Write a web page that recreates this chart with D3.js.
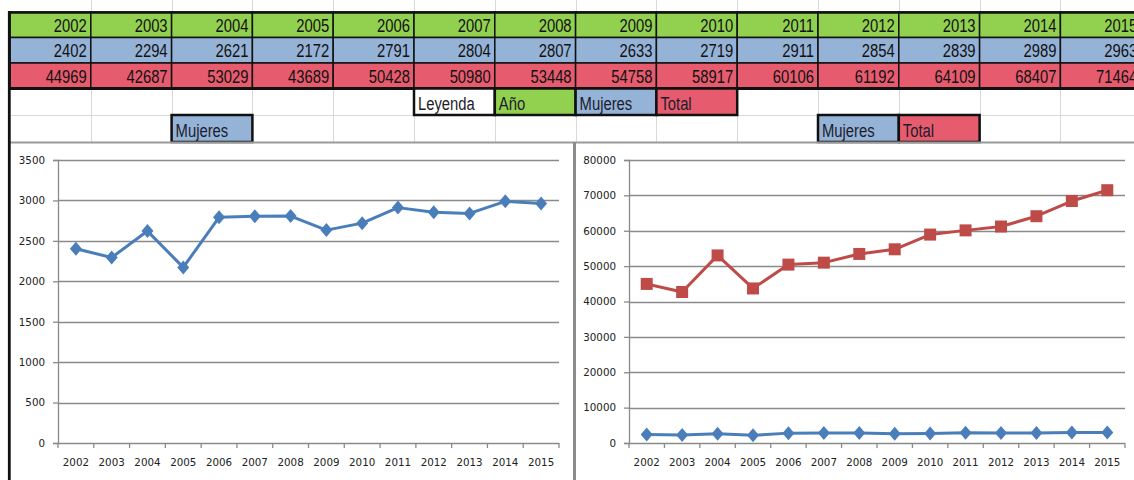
<!DOCTYPE html>
<html>
<head>
<meta charset="utf-8">
<script src="https://cdn.jsdelivr.net/npm/d3@7"></script>
<style>
  html, body { margin: 0; padding: 0; background: #fff; }
  svg { display: block; }
</style>
</head>
<body>
<div id="chart"></div>
<script>
const years = [2002, 2003, 2004, 2005, 2006, 2007, 2008, 2009, 2010, 2011, 2012, 2013, 2014, 2015];
const mujeres = [2402, 2294, 2621, 2172, 2791, 2804, 2807, 2633, 2719, 2911, 2854, 2839, 2989, 2963];
const total = [44969, 42687, 53029, 43689, 50428, 50980, 53448, 54758, 58917, 60106, 61192, 64109, 68407, 71464];
const leftTicks = [0, 500, 1000, 1500, 2000, 2500, 3000, 3500];
const rightTicks = [0, 10000, 20000, 30000, 40000, 50000, 60000, 70000, 80000];
const legendTop = ["Leyenda", "Año", "Mujeres", "Total"];

const width = 1134, height = 480;
const green = "#92d050", blue = "#95b3d7", red = "#e65c6e";
const lineBlue = "#4a7ebb", lineRed = "#be4b48";

const svg = d3.select("#chart").append("svg")
  .attr("width", width).attr("height", height);

// spreadsheet columns
const col = d3.scaleBand().domain(d3.range(16)).range([10, 10 + 16 * 80.8]);
const rowY = [12, 37.5, 63, 88.5, 115, 142];

// light sheet gridlines
const grid = svg.append("g").attr("stroke", "#d9d9d9").attr("stroke-width", 1);
d3.range(1, 15).forEach(i => {
  const x = Math.round(col(i)) + 0.5;
  grid.append("line").attr("x1", x).attr("x2", x).attr("y1", 0).attr("y2", 12);
  grid.append("line").attr("x1", x).attr("x2", x).attr("y1", 88).attr("y2", 142);
});
grid.append("line").attr("x1", 10).attr("x2", width).attr("y1", 115.5).attr("y2", 115.5);

function cellText(x, y, txt, anchor, color) {
  svg.append("g").attr("transform", `translate(${x},${y}) scale(0.78,1)`)
    .append("text")
    .attr("text-anchor", anchor)
    .attr("font-family", "Liberation Sans, Arial, sans-serif")
    .attr("font-size", 19)
    .attr("fill", color || "#111")
    .text(txt);
}

// data table (the last column is cut by the window edge, as in the sheet)
const rows = [
  { vals: years, fill: green },
  { vals: mujeres, fill: blue },
  { vals: total, fill: red }
];
rows.forEach((r, ri) => {
  r.vals.forEach((v, i) => {
    svg.append("rect")
      .attr("x", col(i)).attr("y", rowY[ri])
      .attr("width", col.bandwidth()).attr("height", rowY[ri + 1] - rowY[ri])
      .attr("fill", r.fill).attr("stroke", "#111").attr("stroke-width", 1.5);
    cellText(col(i) + col.bandwidth() - 4, rowY[ri] + 19.8, v, "end");
  });
});
// thick outer borders of the table
svg.append("line").attr("x1", 8).attr("x2", width).attr("y1", 12.5).attr("y2", 12.5)
  .attr("stroke", "#111").attr("stroke-width", 2.5);
svg.append("line").attr("x1", 8).attr("x2", width).attr("y1", 88.5).attr("y2", 88.5)
  .attr("stroke", "#111").attr("stroke-width", 3);

// legend boxes
function legendBox(ci, ri, txt, fill) {
  svg.append("rect")
    .attr("x", col(ci)).attr("y", rowY[ri])
    .attr("width", col.bandwidth()).attr("height", rowY[ri + 1] - rowY[ri])
    .attr("fill", fill).attr("stroke", "#111").attr("stroke-width", 2.5);
  cellText(col(ci) + 4, rowY[ri] + 21.5, txt, "start", "#1c1c2c");
}
const legendFills = ["#fff", green, blue, red];
legendTop.forEach((t, i) => legendBox(5 + i, 3, t, legendFills[i]));
legendBox(2, 4, "Mujeres", blue);
legendBox(10, 4, "Mujeres", blue);
legendBox(11, 4, "Total", red);

// chart frames
svg.append("line").attr("x1", 10).attr("x2", width).attr("y1", 142.5).attr("y2", 142.5)
  .attr("stroke", "#9a9a9a").attr("stroke-width", 2);
svg.append("line").attr("x1", 574.5).attr("x2", 574.5).attr("y1", 142).attr("y2", height)
  .attr("stroke", "#8c8c8c").attr("stroke-width", 3);
svg.append("line").attr("x1", 9.3).attr("x2", 9.3).attr("y1", 11).attr("y2", height)
  .attr("stroke", "#111").attr("stroke-width", 2.8);

const diamond = "M0,-7L6,0L0,7L-6,0Z";
const square = "M-6,-6H6V6H-6Z";

function drawChart(x0, x1, ticks, series) {
  const x = d3.scaleBand().domain(years).range([x0, x1]);
  const y = d3.scaleLinear().domain([0, d3.max(ticks)]).range([443, 160]);
  const g = svg.append("g");

  g.selectAll(".gl").data(ticks.slice(1)).join("line")
    .attr("x1", x0).attr("x2", x1)
    .attr("y1", d => Math.round(y(d)) + 0.5).attr("y2", d => Math.round(y(d)) + 0.5)
    .attr("stroke", "#8a8a8a").attr("stroke-width", 1.3);

  const yAxis = g.append("g").attr("transform", `translate(${x0},0)`)
    .call(d3.axisLeft(y).tickValues(ticks).tickSize(5).tickPadding(8).tickFormat(d3.format("d")));
  const xAxis = g.append("g").attr("transform", `translate(0,${Math.round(y(0)) + 0.5})`)
    .call(d3.axisBottom(x).tickSize(0).tickPadding(15));
  // tick marks on band boundaries
  g.selectAll(".xt").data(d3.range(15)).join("line")
    .attr("x1", i => x0 + i * x.bandwidth()).attr("x2", i => x0 + i * x.bandwidth())
    .attr("y1", y(0)).attr("y2", y(0) + 5)
    .attr("stroke", "#8a8a8a").attr("stroke-width", 1.3);

  [yAxis, xAxis].forEach(a => {
    a.selectAll("path.domain, line").attr("stroke", "#8a8a8a").attr("stroke-width", 1.3);
    a.selectAll("text").attr("font-family", "DejaVu Sans, sans-serif")
      .attr("font-size", 10.3).attr("fill", "#222");
  });
  xAxis.select("path.domain").attr("d", `M${x0},0H${x1}`);

  series.forEach(s => {
    const line = d3.line().x((d, i) => x(years[i]) + x.bandwidth() / 2).y(d => y(d));
    g.append("path").datum(s.values).attr("d", line)
      .attr("fill", "none").attr("stroke", s.color).attr("stroke-width", 3)
      .attr("stroke-linejoin", "round");
    g.selectAll(null).data(s.values).join("path")
      .attr("transform", (d, i) => `translate(${x(years[i]) + x.bandwidth() / 2},${y(d)})`)
      .attr("d", s.marker).attr("fill", s.color);
  });
}

drawChart(58, 559, leftTicks, [{ values: mujeres, color: lineBlue, marker: diamond }]);
drawChart(629, 1125, rightTicks, [
  { values: total, color: lineRed, marker: square },
  { values: mujeres, color: lineBlue, marker: diamond }
]);
</script>
</body>
</html>
